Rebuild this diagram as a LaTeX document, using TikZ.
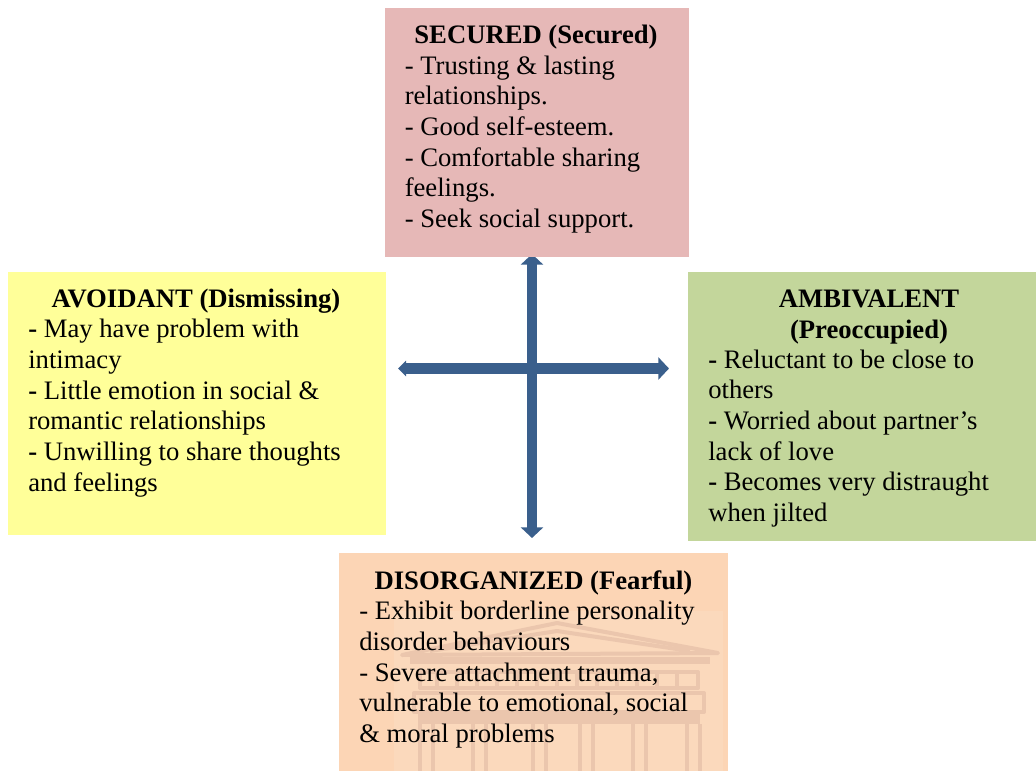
\documentclass[tikz,border=0pt]{standalone}
\usepackage{fontspec}
\setmainfont{Liberation Serif}
\usetikzlibrary{arrows.meta}
\definecolor{securedpink}{HTML}{E6B8B7}
\definecolor{avoidantyellow}{HTML}{FFFF99}
\definecolor{ambivalentgreen}{HTML}{C3D69B}
\definecolor{fearfulorange}{HTML}{FCD5B5}
\definecolor{sealpale}{HTML}{FBD9BC}
\definecolor{sealline}{HTML}{EBC6AD}
\definecolor{crossblue}{HTML}{3A5F8C}
\tikzset{
  attachbox/.style={minimum width=#1, inner sep=0pt, outer sep=0pt},
  heading/.style={inner sep=0pt, align=center, font=\fontsize{20pt}{23pt}\selectfont\bfseries},
  traits/.style={inner sep=0pt, anchor=north west, align=left, font=\fontsize{20pt}{23pt}\selectfont},
  crossline/.style={crossblue, line width=7.8pt},
  sealstroke/.style={draw=sealline, line width=3pt, line join=round}
}
\begin{document}
\begin{tikzpicture}[x=0.75pt, y=-0.75pt]
    \useasboundingbox (0, 0) rectangle (1036, 771);
    \coordinate (north) at (532, 254);
    \coordinate (south) at (532, 538);
    \coordinate (west) at (398, 368.5);
    \coordinate (east) at (669, 368.5);
    \draw [crossline, {Triangle[width=16.5pt, length=8pt]}-{Triangle[width=16.5pt, length=8pt]}] (north) -- (south);
    \draw [crossline, {Triangle[width=11.5pt, length=6pt]}-{Triangle[width=16.5pt, length=8pt]}] (west) -- (east);

    \node [attachbox=304*0.75pt, minimum height=249*0.75pt, fill=securedpink, anchor=north west] (secured) at (385, 8) {};
    \node [attachbox=378*0.75pt, minimum height=263*0.75pt, fill=avoidantyellow, anchor=north west] (avoidant) at (8, 272) {};
    \node [attachbox=348*0.75pt, minimum height=269*0.75pt, fill=ambivalentgreen, anchor=north west] (ambivalent) at (688, 272) {};
    \node [attachbox=389*0.75pt, minimum height=218*0.75pt, fill=fearfulorange, anchor=north west] (fearful) at (339, 553) {};

    \fill [sealpale] (394, 611) rectangle (723, 771);
    \draw [sealstroke] (402, 655) -- (557, 623) -- (718, 653) -- cycle;
    \draw [sealstroke] (430, 651) -- (557, 631) -- (690, 651);
    \fill [sealline] (410, 657) rectangle (710, 664);
    \draw [sealstroke] (420, 672) rectangle (698, 688);
    \foreach \x in {437, 457, 477, 497, 517, 537, 557, 577, 597, 617, 637, 657, 677}
      \draw [sealstroke] (\x, 672) -- (\x, 688);
    \draw [sealstroke] (414, 693) rectangle (704, 712);
    \fill [sealline] (418, 713) rectangle (700, 724);
    \foreach \x in {420, 473, 533, 580, 633, 687}
      \draw [sealstroke] (\x, 724) -- (\x, 771) (\x + 13, 724) -- (\x + 13, 771);

    \node [heading] (securedtitle) at (536, 37.5) {SECURED (Secured)};
    \node [traits] (securedtext) at (404.5, 55.5) {- Trusting \& lasting\\relationships.\\- Good self-esteem.\\- Comfortable sharing\\feelings.\\- Seek social support.};
    \node [heading] (avoidanttitle) at (196, 301) {AVOIDANT (Dismissing)};
    \node [traits] (avoidanttext) at (28, 319) {\textbf{-} May have problem with\\intimacy\\\textbf{-} Little emotion in social \&\\romantic relationships\\\textbf{-} Unwilling to share thoughts\\and feelings};
    \node [heading, anchor=north] (ambivalenttitle) at (869, 290) {AMBIVALENT\\(Preoccupied)};
    \node [traits] (ambivalenttext) at (708, 349.5) {\textbf{-} Reluctant to be close to\\others\\\textbf{-} Worried about partner’s\\lack of love\\\textbf{-} Becomes very distraught\\when jilted};
    \node [heading] (fearfultitle) at (533.5, 583) {DISORGANIZED (Fearful)};
    \node [traits] (fearfultext) at (359, 601) {- Exhibit borderline personality\\disorder behaviours\\- Severe attachment trauma,\\vulnerable to emotional, social\\\& moral problems};
  \end{tikzpicture}
\end{document}
